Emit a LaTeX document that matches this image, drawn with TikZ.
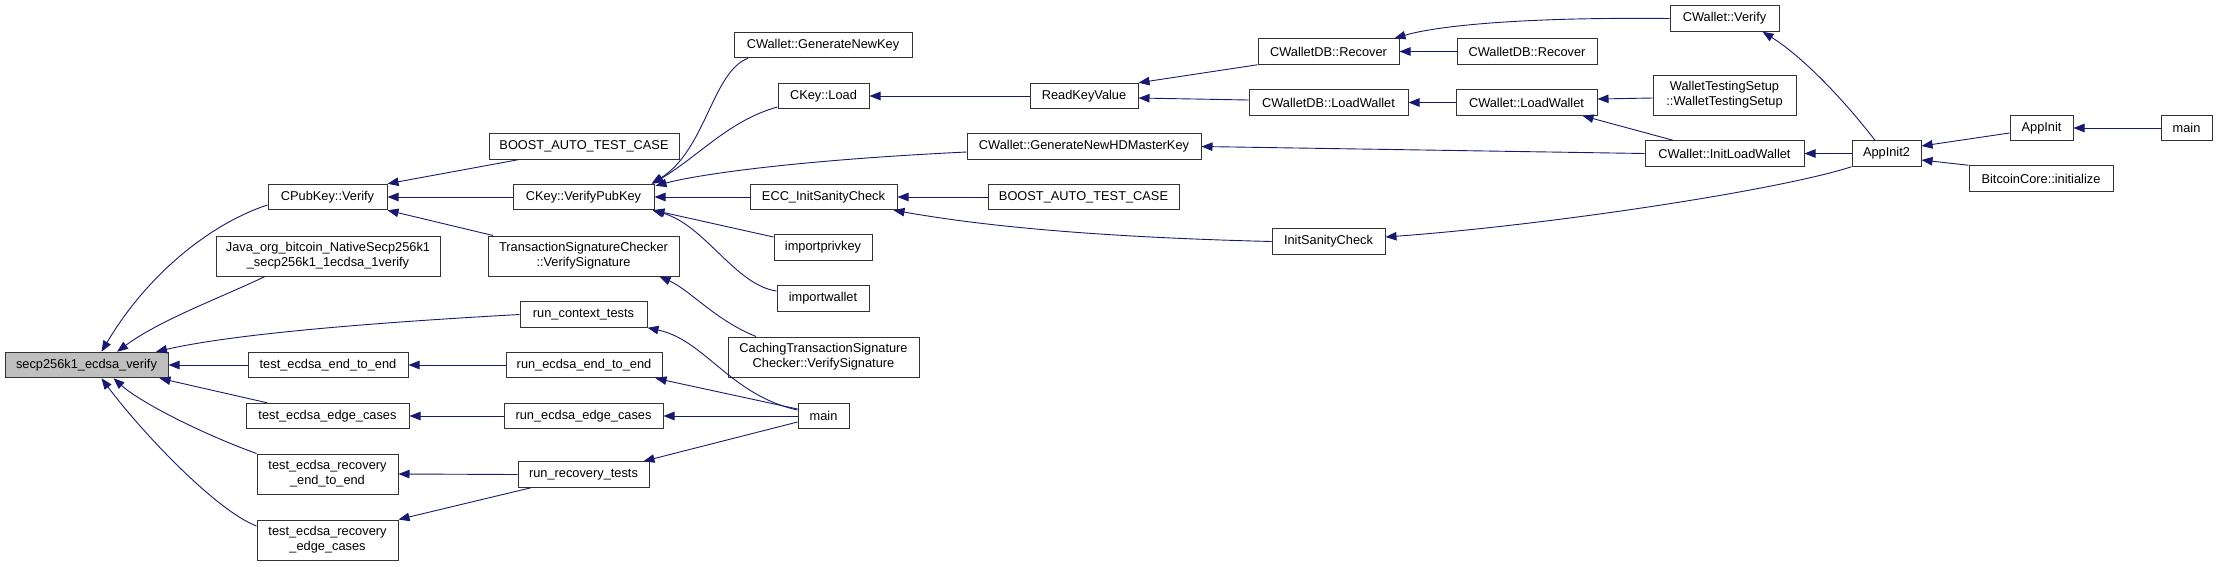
\documentclass[tikz,border=0pt]{standalone}
\usepackage{fontspec}
\setsansfont{Liberation Sans}
\usetikzlibrary{arrows.meta}
\definecolor{edgeblue}{RGB}{25,25,112}
\definecolor{hotgray}{RGB}{191,191,191}

\begin{document}
\begin{tikzpicture}[
  x=1pt, y=-1pt,
  font=\sffamily\fontsize{12.8}{15}\selectfont,
  every node/.style={align=center},
  func/.style={rectangle, draw=black!80, fill=white, line width=1pt,
               inner sep=0pt, minimum height=25.5pt},
  func2/.style={func, minimum height=40pt},
  focus/.style={func, fill=hotgray},
  call/.style={-{Triangle[length=11pt,width=8.5pt]}, draw=edgeblue, line width=0.9pt}
]

\fill[white] (0,0) rectangle (2217,566);
\useasboundingbox (0,0) rectangle (2217,566);

% --- Column 1: the function itself ---
\node[focus, minimum width=163pt] (verify) at (86.5,365) {secp256k1\_ecdsa\_verify};

% --- Column 2 ---
\node[func, minimum width=119pt] (pubver) at (327.5,197) {CPubKey::Verify};
\node[func2, minimum width=224pt] (java) at (328,256) {Java\_org\_bitcoin\_NativeSecp256k1\\\_secp256k1\_1ecdsa\_1verify};
\node[func, minimum width=160pt] (tee) at (328,365) {test\_ecdsa\_end\_to\_end};
\node[func, minimum width=163pt] (tec) at (327.5,416) {test\_ecdsa\_edge\_cases};
\node[func2, minimum width=141pt] (trete) at (327.5,474) {test\_ecdsa\_recovery\\\_end\_to\_end};
\node[func2, minimum width=141pt] (trec) at (327.5,540) {test\_ecdsa\_recovery\\\_edge\_cases};

% --- Column 3 ---
\node[func, minimum width=190pt] (boosta) at (584,146.5) {BOOST\_AUTO\_TEST\_CASE};
\node[func, minimum width=141pt] (keyver) at (583.5,197) {CKey::VerifyPubKey};
\node[func2, minimum width=191pt] (tsc) at (583.5,256) {TransactionSignatureChecker\\::VerifySignature};
\node[func, minimum width=127pt] (ctxtests) at (583.5,314.5) {run\_context\_tests};
\node[func, minimum width=156pt] (ree) at (584,365) {run\_ecdsa\_end\_to\_end};
\node[func, minimum width=159pt] (rec) at (583.5,416) {run\_ecdsa\_edge\_cases};
\node[func, minimum width=131pt] (rrt) at (583.5,474.5) {run\_recovery\_tests};

% --- Column 4 ---
\node[func, minimum width=178pt] (genkey) at (823,45) {CWallet::GenerateNewKey};
\node[func, minimum width=91pt] (keyload) at (823.5,96) {CKey::Load};
\node[func, minimum width=147pt] (ecc) at (823.5,197) {ECC\_InitSanityCheck};
\node[func, minimum width=98pt] (privkey) at (823,247.5) {importprivkey};
\node[func, minimum width=92pt] (impwallet) at (823,298.5) {importwallet};
\node[func2, minimum width=191pt] (ctsc) at (823.5,357) {CachingTransactionSignature\\Checker::VerifySignature};
\node[func, minimum width=51pt] (mainl) at (823.5,416) {main};

% --- Column 5 ---
\node[func, minimum width=108pt] (rkv) at (1084,96) {ReadKeyValue};
\node[func, minimum width=234pt] (hdmaster) at (1084,146.5) {CWallet::GenerateNewHDMasterKey};
\node[func, minimum width=191pt] (boostb) at (1083.5,197) {BOOST\_AUTO\_TEST\_CASE};

% --- Column 6 ---
\node[func, minimum width=141pt] (recovera) at (1328.5,51.5) {CWalletDB::Recover};
\node[func, minimum width=159pt] (dbload) at (1328.5,102.5) {CWalletDB::LoadWallet};
\node[func, minimum width=113pt] (initsan) at (1328.5,241.5) {InitSanityCheck};

% --- Column 7 ---
\node[func, minimum width=140pt] (recoverb) at (1527,51.5) {CWalletDB::Recover};
\node[func, minimum width=141pt] (wload) at (1526.5,102.5) {CWallet::LoadWallet};

% --- Column 8 ---
\node[func, minimum width=109pt] (wverify) at (1724.5,18.5) {CWallet::Verify};
\node[func2, minimum width=143pt] (wts) at (1724.5,95) {WalletTestingSetup\\::WalletTestingSetup};
\node[func, minimum width=159pt] (initload) at (1724.5,153.5) {CWallet::InitLoadWallet};

% --- Columns 9 to 11 ---
\node[func, minimum width=69pt] (appinit2) at (1886.5,153.5) {AppInit2};
\node[func, minimum width=63pt] (appinit) at (2041.5,128) {AppInit};
\node[func, minimum width=144pt] (bcinit) at (2041,178.5) {BitcoinCore::initialize};
\node[func, minimum width=51pt] (mainr) at (2186.5,128) {main};

% --- Calls into secp256k1_ecdsa_verify ---
\draw[call] ([yshift=-8pt]pubver.west) .. controls (215,222) and (150,270) .. ([xshift=15pt]verify.north);
\draw[call] ([xshift=-63pt]java.south) .. controls (220,298) and (160,320) .. ([xshift=30.5pt]verify.north);
\draw[call] (ctxtests.west) .. controls (330,325) and (220,337) .. ([xshift=69.5pt]verify.north);
\draw[call] (tee.west) -- (verify.east);
\draw[call] ([xshift=-60.5pt]tec.north) -- ([xshift=73pt]verify.south);
\draw[call] (trete.north west) .. controls (200,433) and (140,402) .. ([xshift=27pt]verify.south);
\draw[call] ([yshift=14pt]trec.west) .. controls (215,510) and (140,430) .. ([xshift=15pt]verify.south);

% --- Column 3 to column 2 ---
\draw[call] ([xshift=-66pt]boosta.south) -- (pubver.north east);
\draw[call] (keyver.west) -- (pubver.east);
\draw[call] ([xshift=-90.5pt]tsc.north) -- (pubver.south east);
\draw[call] (ree.west) -- (tee.east);
\draw[call] (rec.west) -- (tec.east);
\draw[call] (rrt.west) -- (trete.east);
\draw[call] ([xshift=-52.5pt]rrt.south) -- (trec.north east);

% --- Column 4 to column 3 ---
\draw[call] ([xshift=-75pt]genkey.south) .. controls (712,72) and (706,150) .. ([xshift=-3pt]keyver.north east);
\draw[call] ([yshift=-11pt]keyload.west) .. controls (730,120) and (700,155) .. ([xshift=-2pt]keyver.north east);
\draw[call] ([yshift=-5.5pt]hdmaster.west) .. controls (800,160) and (700,174) .. ([xshift=1pt,yshift=-2pt]keyver.north east);
\draw[call] (ecc.west) -- (keyver.east);
\draw[call] ([yshift=10.5pt]privkey.west) -- ([xshift=-1pt]keyver.south east);
\draw[call] ([yshift=7.5pt]impwallet.west) .. controls (735,285) and (705,225) .. ([xshift=-2pt]keyver.south east);
\draw[call] ([xshift=-67.5pt]ctsc.north) .. controls (715,320) and (690,290) .. ([xshift=76pt]tsc.south);
\draw[call] ([yshift=6pt]mainl.west) .. controls (730,395) and (705,340) .. (ctxtests.south east);
\draw[call] ([yshift=7pt]mainl.west) -- ([xshift=-7pt]ree.south east);
\draw[call] (mainl.west) -- (rec.east);
\draw[call] ([yshift=-6pt]mainl.west) -- ([xshift=-6pt]rrt.north east);

% --- Wallet side ---
\draw[call] (rkv.west) -- (keyload.east);
\draw[call] (recovera.south west) -- (rkv.north east);
\draw[call] ([yshift=2.5pt]dbload.west) -- ([yshift=-2pt]rkv.east);
\draw[call] (wverify.west) .. controls (1530,17) and (1440,25) .. ([xshift=-5pt]recovera.north east);
\draw[call] (recoverb.west) -- (recovera.east);
\draw[call] (wload.west) -- (dbload.east);
\draw[call] ([yshift=-3pt]wts.west) -- ([yshift=3.5pt]wload.east);
\draw[call] ([xshift=-51.5pt]initload.north) -- ([xshift=-15pt]wload.south east);
\draw[call] (initload.west) -- (hdmaster.east);
\draw[call] (boostb.west) -- (ecc.east);
\draw[call] (initsan.west) .. controls (1050,236) and (950,220) .. ([xshift=-4pt]ecc.south east);

% --- Application start-up ---
\draw[call] ([xshift=-11.5pt]appinit2.north) .. controls (1840,95) and (1800,55) .. ([xshift=38pt]wverify.south);
\draw[call] (appinit2.west) -- (initload.east);
\draw[call] (appinit2.south west) .. controls (1780,190) and (1550,225) .. ([yshift=4.5pt]initsan.east);
\draw[call] ([yshift=-5pt]appinit.west) -- ([yshift=7.5pt]appinit2.east);
\draw[call] (bcinit.north west) -- ([yshift=-6.5pt]appinit2.east);
\draw[call] (mainr.west) -- (appinit.east);

\end{tikzpicture}
\end{document}
